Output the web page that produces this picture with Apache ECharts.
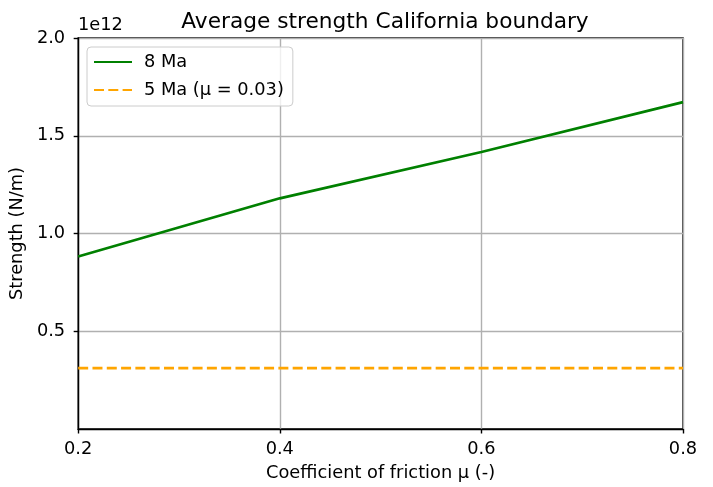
<!DOCTYPE html>
<html><head><meta charset="utf-8">
<script src="https://cdn.jsdelivr.net/npm/echarts@6/dist/echarts.min.js"></script>
<style>html,body{margin:0;padding:0;background:#fff}#c{width:713px;height:487px}</style>
</head><body><div id="c"></div>
<script>
const friction = [0.2, 0.4, 0.6, 0.8];
const strength8Ma = [0.882, 1.180, 1.417, 1.672]; // x1e12 N/m
const strength5Ma = [0.311, 0.311, 0.311, 0.311]; // x1e12 N/m
const xTicks = [0.2, 0.4, 0.6, 0.8];
const yTicks = [0.5, 1.0, 1.5, 2.0];
const seriesNames = ['8 Ma', '5 Ma (μ = 0.03)'];

const F = 'DejaVu Sans';
const FS = 17.8;
const chart = echarts.init(document.getElementById('c'), null, {renderer: 'canvas'});
chart.setOption({
  animation: false,
  backgroundColor: '#fff',
  title: {
    text: 'Average strength California boundary',
    left: 380, top: 6, textAlign: 'center',
    textStyle: {fontFamily: F, fontSize: 21.7, fontWeight: 'normal', color: '#000'}
  },
  grid: {left: 77, right: 30, top: 38, bottom: 55, show: true, borderColor: '#000', borderWidth: 1.4, backgroundColor: 'transparent'},
  legend: {
    left: 87, top: 47, orient: 'vertical',
    itemWidth: 38, itemHeight: 14, itemGap: 10,
    padding: [6, 9, 7, 6],
    borderColor: '#cccccc', borderWidth: 1, borderRadius: 4,
    backgroundColor: 'rgba(255,255,255,0.8)',
    itemStyle: {opacity: 0},
    textStyle: {fontFamily: F, fontSize: FS, lineHeight: 18, color: '#000', padding: [0, 0, 0, 7]},
    data: seriesNames
  },
  xAxis: {
    type: 'value', min: xTicks[0], max: xTicks[xTicks.length - 1], interval: 0.2,
    name: 'Coefficient of friction μ (-)', nameLocation: 'middle', nameGap: 35,
    nameTextStyle: {fontFamily: F, fontSize: FS, color: '#000'},
    axisLine: {show: true, lineStyle: {color: '#000', width: 1.4}},
    axisTick: {show: true, length: 4.5, lineStyle: {color: '#000', width: 1.4}},
    axisLabel: {fontFamily: F, fontSize: FS, color: '#000', margin: 11,
      formatter: v => v.toFixed(1)},
    splitLine: {show: true, lineStyle: {color: '#b0b0b0', width: 1.4}}
  },
  yAxis: {
    type: 'value', min: 0, max: yTicks[yTicks.length - 1], interval: 0.5,
    name: 'Strength (N/m)', nameLocation: 'middle', nameGap: 48, nameRotate: 90,
    nameTextStyle: {fontFamily: F, fontSize: FS, color: '#000'},
    axisLine: {show: true, lineStyle: {color: '#000', width: 1.4}},
    axisTick: {show: true, length: 4.5, lineStyle: {color: '#000', width: 1.4}, customValues: yTicks},
    axisLabel: {fontFamily: F, fontSize: FS, color: '#000', margin: 13, customValues: yTicks,
      formatter: v => (v === 0 ? '' : v.toFixed(1))},
    splitLine: {show: true, lineStyle: {color: '#b0b0b0', width: 1.4}}
  },
  graphic: [{
    type: 'text', left: 78, top: 16,
    style: {text: '1e12', fontFamily: F, fontSize: FS, fill: '#000'}
  }],
  series: [
    {name: seriesNames[0], type: 'line', symbol: 'none', color: '#008000',
     lineStyle: {color: '#008000', width: 2.7},
     data: friction.map((x, i) => [x, strength8Ma[i]])},
    {name: seriesNames[1], type: 'line', symbol: 'none', color: '#ffa500',
     lineStyle: {color: '#ffa500', width: 2.7, type: [10, 4.3]},
     data: friction.map((x, i) => [x, strength5Ma[i]])}
  ]
});
</script></body></html>
